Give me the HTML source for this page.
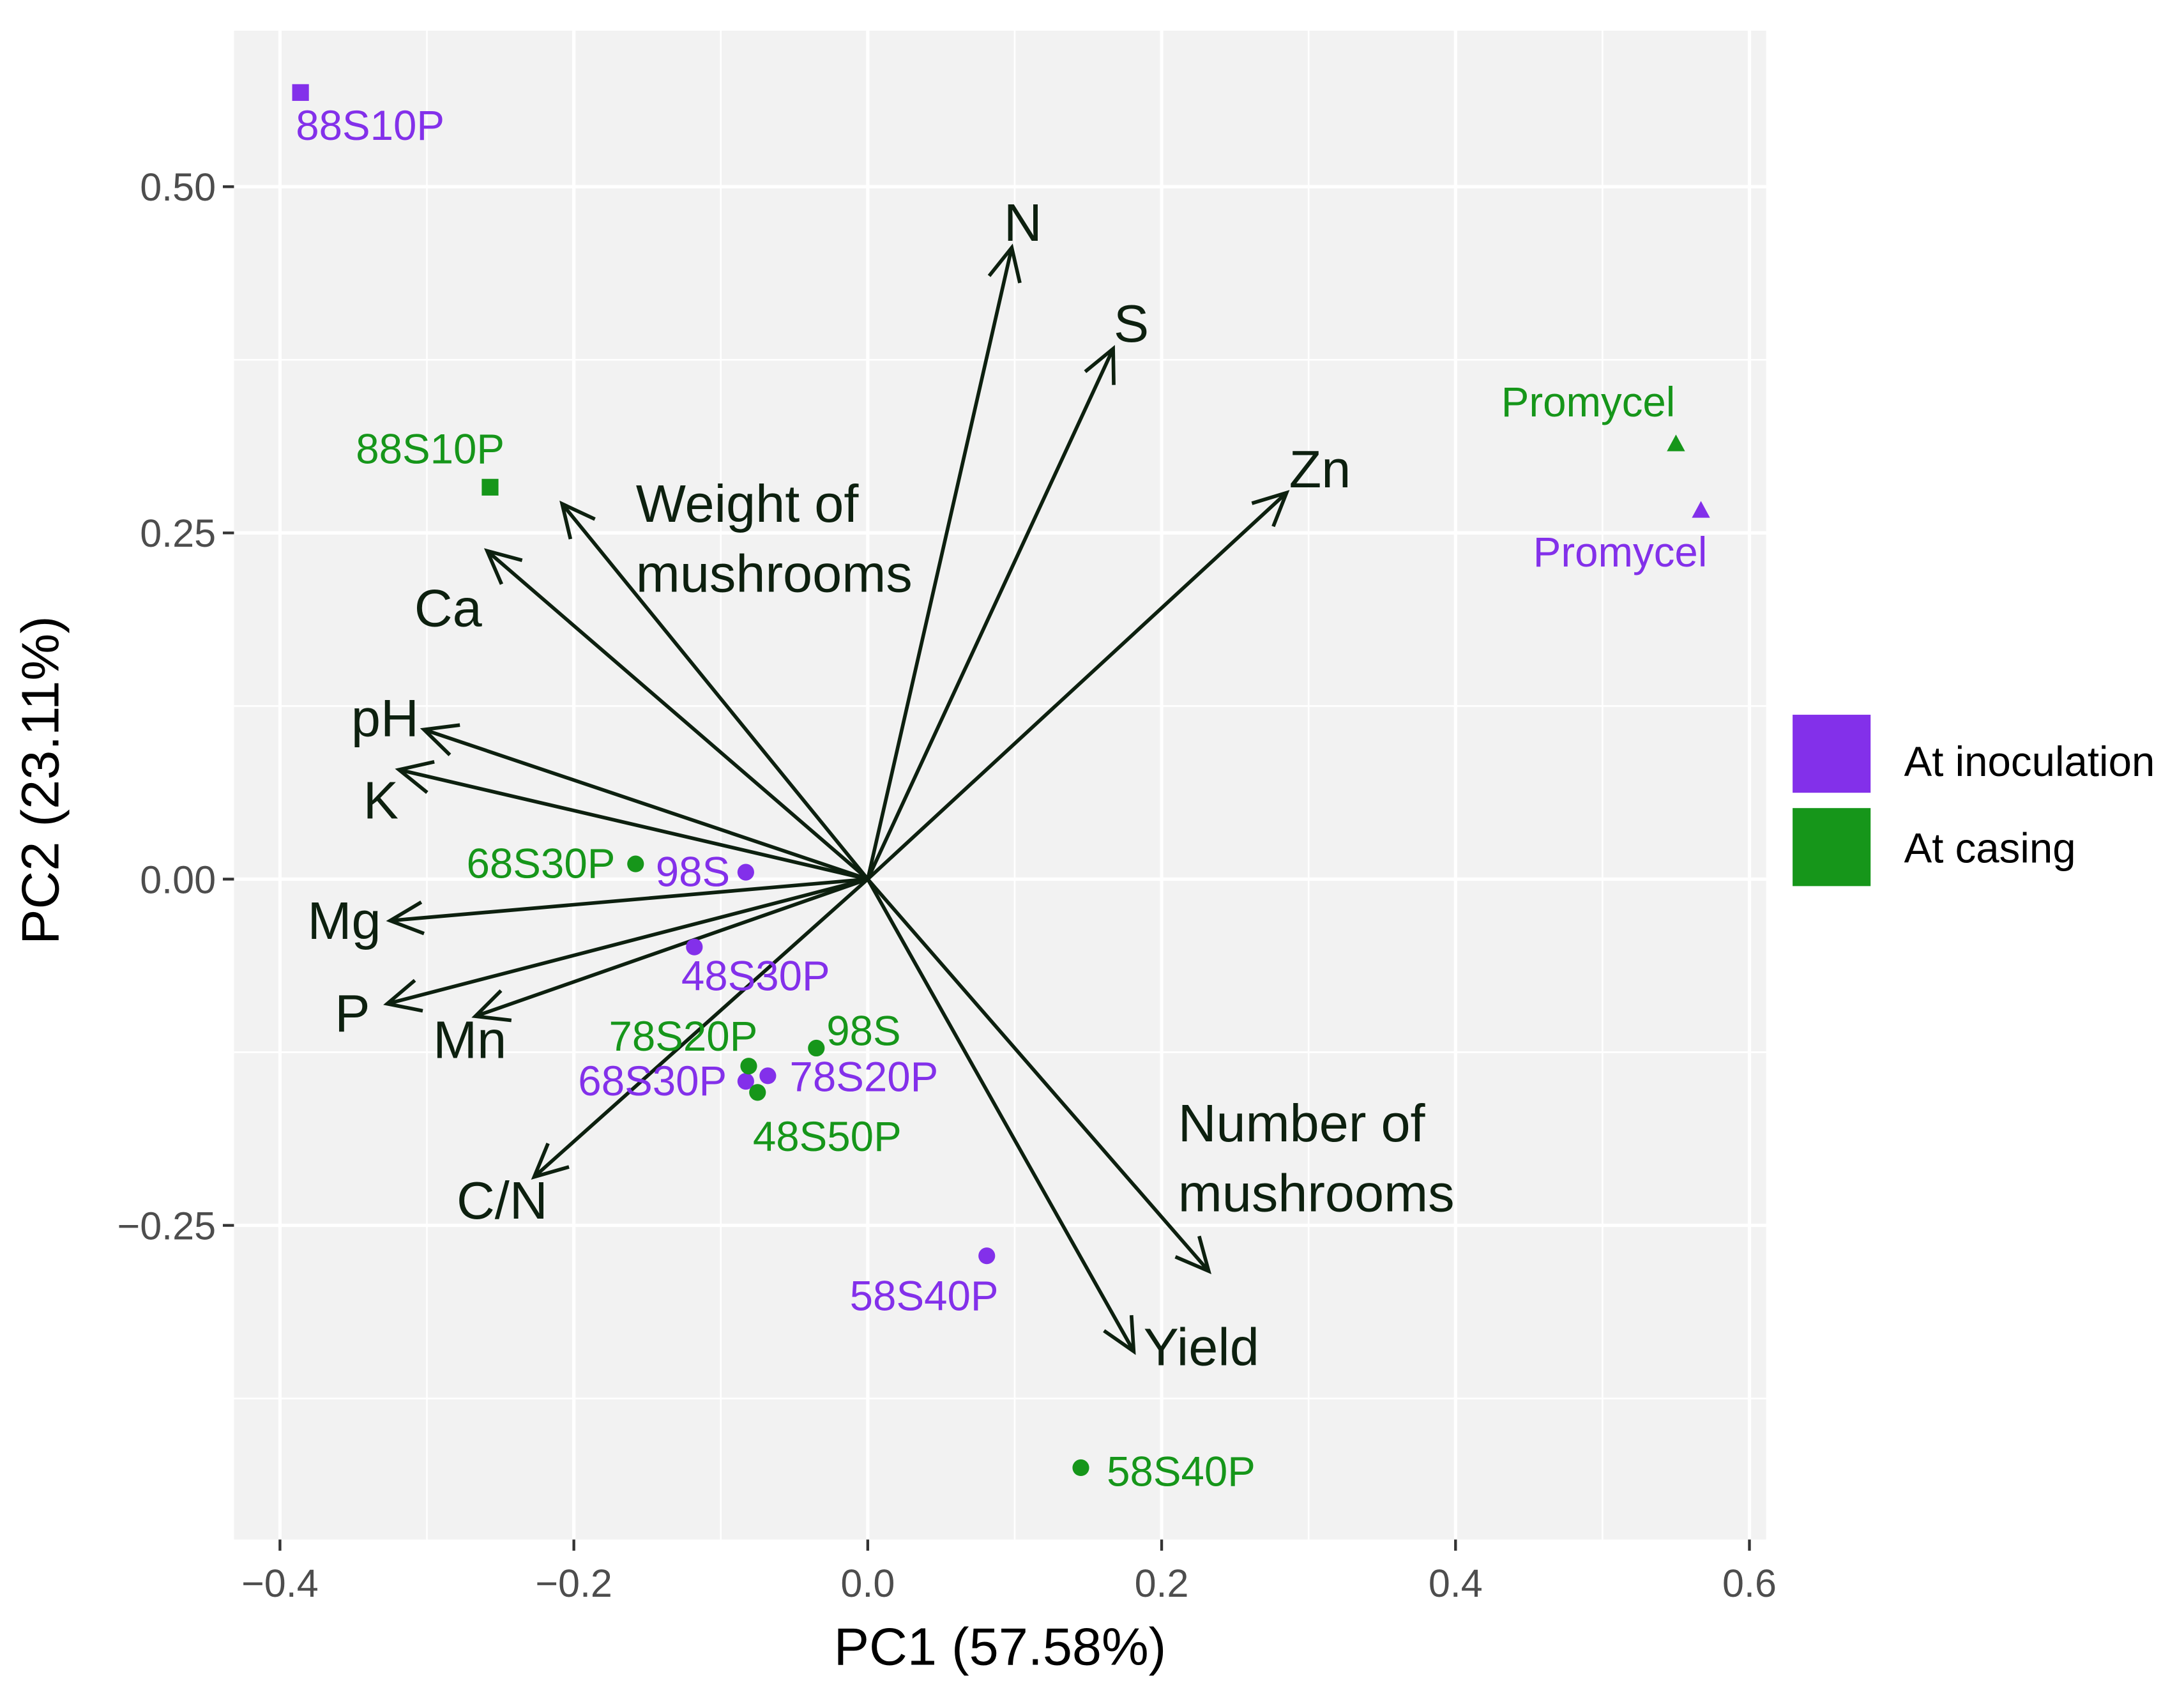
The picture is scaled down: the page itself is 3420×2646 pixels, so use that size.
<!DOCTYPE html>
<html><head><meta charset="utf-8"><style>
html,body{margin:0;padding:0;background:#fff}
svg{display:block}
text{font-family:"Liberation Sans",Arial,sans-serif}
</style></head><body>
<svg id="chart" width="3420" height="2646" viewBox="0 0 1568 1213" preserveAspectRatio="none" xmlns="http://www.w3.org/2000/svg">
<rect x="0" y="0" width="1568" height="1213" fill="#fff"/>
<rect x="168" y="22" width="1100" height="1083" fill="#f2f2f2"/>
<g id="grid"></g>
<g id="arrows"></g>
<g id="points"></g>
<g id="axes"></g>
<text x="718" y="1195" font-size="38" text-anchor="middle" fill="#000">PC1 (57.58%)</text>
<text transform="translate(42,560) rotate(-90)" font-size="38" text-anchor="middle" fill="#000">PC2 (23.11%)</text>
<g>
<rect x="1287" y="513" width="56" height="56" fill="#8330ea"/>
<text x="1367" y="557" font-size="30" fill="#000">At inoculation</text>
<rect x="1287" y="580" width="56" height="56" fill="#16961a"/>
<text x="1367" y="619" font-size="30" fill="#000">At casing</text>
</g>
</svg>
<script>
const xTicks=[-0.4,-0.2,0.0,0.2,0.4,0.6];
const xTickLabels=["\u22120.4","\u22120.2","0.0","0.2","0.4","0.6"];
const yTicks=[0.5,0.25,0,-0.25];
const yTickLabels=["0.50","0.25","0.00","\u22120.25"];
const xMinor=[-0.3,-0.1,0.1,0.3,0.5];
const yMinor=[0.375,0.125,-0.125,-0.375];

const inocNames=["88S10P","Promycel","98S","48S30P","68S30P","78S20P","58S40P"];
const inocX=[-0.386,0.567,-0.083,-0.118,-0.083,-0.068,0.081];
const inocY=[0.568,0.266,0.005,-0.049,-0.146,-0.142,-0.272];
const casNames=["88S10P","Promycel","68S30P","98S","78S20P","48S50P","58S40P"];
const casX=[-0.257,0.550,-0.158,-0.035,-0.081,-0.075,0.145];
const casY=[0.283,0.314,0.011,-0.122,-0.135,-0.154,-0.425];

const varNames=["N","S","Zn","Weight of|mushrooms","Ca","pH","K","Mg","P","Mn","C/N","Number of|mushrooms","Yield"];
const varX=[0.098,0.167,0.285,-0.208,-0.259,-0.302,-0.319,-0.325,-0.327,-0.267,-0.227,0.232,0.181];
const varY=[0.456,0.383,0.279,0.271,0.237,0.108,0.079,-0.030,-0.090,-0.099,-0.215,-0.283,-0.341];

const X=v=>623+v*1055, Y=v=>631-v*994;
const NS="http://www.w3.org/2000/svg";
function mk(tag,attrs,parent,txt){const e=document.createElementNS(NS,tag);for(const k in attrs)e.setAttribute(k,attrs[k]);if(txt!==undefined)e.textContent=txt;parent.appendChild(e);return e;}
const grid=document.getElementById('grid'),axes=document.getElementById('axes');
xMinor.forEach(v=>{const l=mk('line',{x1:X(v),x2:X(v),y1:22,y2:1105,stroke:'#fff','stroke-width':1.2},grid);

});
yMinor.forEach(v=>{const l=mk('line',{x1:168,x2:1268,y1:Y(v),y2:Y(v),stroke:'#fff','stroke-width':1.2},grid);

});
xTicks.forEach((v,i)=>{const l=mk('line',{x1:X(v),x2:X(v),y1:22,y2:1105,stroke:'#fff','stroke-width':2.4},grid);


mk('line',{x1:X(v),x2:X(v),y1:1105,y2:1113,stroke:'#333','stroke-width':2},axes);
const t=mk('text',{x:X(v),y:1146,'font-size':28,'text-anchor':'middle',fill:'#4d4d4d'},axes,xTickLabels[i]);

});
yTicks.forEach((v,i)=>{const l=mk('line',{x1:168,x2:1268,y1:Y(v),y2:Y(v),stroke:'#fff','stroke-width':2.4},grid);


mk('line',{x1:160,x2:168,y1:Y(v),y2:Y(v),stroke:'#333','stroke-width':2},axes);
const t=mk('text',{x:155,y:Y(v)+10,'font-size':28,'text-anchor':'end',fill:'#4d4d4d'},axes,yTickLabels[i]);

});

const ar=document.getElementById('arrows');
const labOff={"N":[8,-18,'middle'],"S":[13,-18,'middle'],"Zn":[24,-17,'middle'],"Weight of|mushrooms":[53,0,'start'],"Ca":[-28,41,'middle'],"pH":[-28,-8,'middle'],"K":[-13,22,'middle'],"Mg":[-33,0,'middle'],"P":[-25,7,'middle'],"Mn":[-4,17,'middle'],"C/N":[-23,17,'middle'],"Number of|mushrooms":[-22,-106,'start'],"Yield":[7,-3,'start']};
varNames.forEach((n,i)=>{const x2=X(varX[i]),y2=Y(varY[i]);
const g=mk('g',{},ar);


mk('line',{x1:623,y1:631,x2:x2,y2:y2,stroke:'#0d200f','stroke-width':2.6},g);
const a=Math.atan2(y2-631,x2-623),L=26,s=0.45;
const p=`M${x2-L*Math.cos(a-s)},${y2-L*Math.sin(a-s)} L${x2},${y2} L${x2-L*Math.cos(a+s)},${y2-L*Math.sin(a+s)}`;
mk('path',{d:p,fill:'none',stroke:'#0d200f','stroke-width':2.6},g);
const o=labOff[n],lines=n.split('|');
lines.forEach((ln,k)=>{mk('text',{x:x2+o[0],y:y2+o[1]+13+k*50,'font-size':38,'text-anchor':o[2],fill:'#0d200f'},g,ln);});
});

const pts=document.getElementById('points');
function drawSet(names,xs,ys,col,offs,grp){
names.forEach((n,i)=>{const cx=X(xs[i]),cy=Y(ys[i]);const g=mk('g',{},pts);


if(n==='88S10P')mk('rect',{x:cx-6,y:cy-6,width:12,height:12,fill:col},g);
else if(n==='Promycel')mk('path',{d:`M${cx},${cy-7} L${cx+6.5},${cy+5} L${cx-6.5},${cy+5}Z`,fill:col},g);
else mk('circle',{cx:cx,cy:cy,r:6,fill:col},g);
const o=offs[n];mk('text',{x:cx+o[0],y:cy+o[1]+10,'font-size':30,'text-anchor':'middle',fill:col},g,n);});}
drawSet(inocNames,inocX,inocY,'#8330ea',{"88S10P":[50,24],"Promycel":[-58,30],"98S":[-38,0],"48S30P":[44,21],"68S30P":[-67,0],"78S20P":[69,1],"58S40P":[-45,29]},'inoculation');
drawSet(casNames,casX,casY,'#16961a',{"88S10P":[-43,-27],"Promycel":[-63,-30],"68S30P":[-68,0],"98S":[34,-12],"78S20P":[-47,-21],"48S50P":[50,32],"58S40P":[72,3]},'casing');
</script>
</body></html>
